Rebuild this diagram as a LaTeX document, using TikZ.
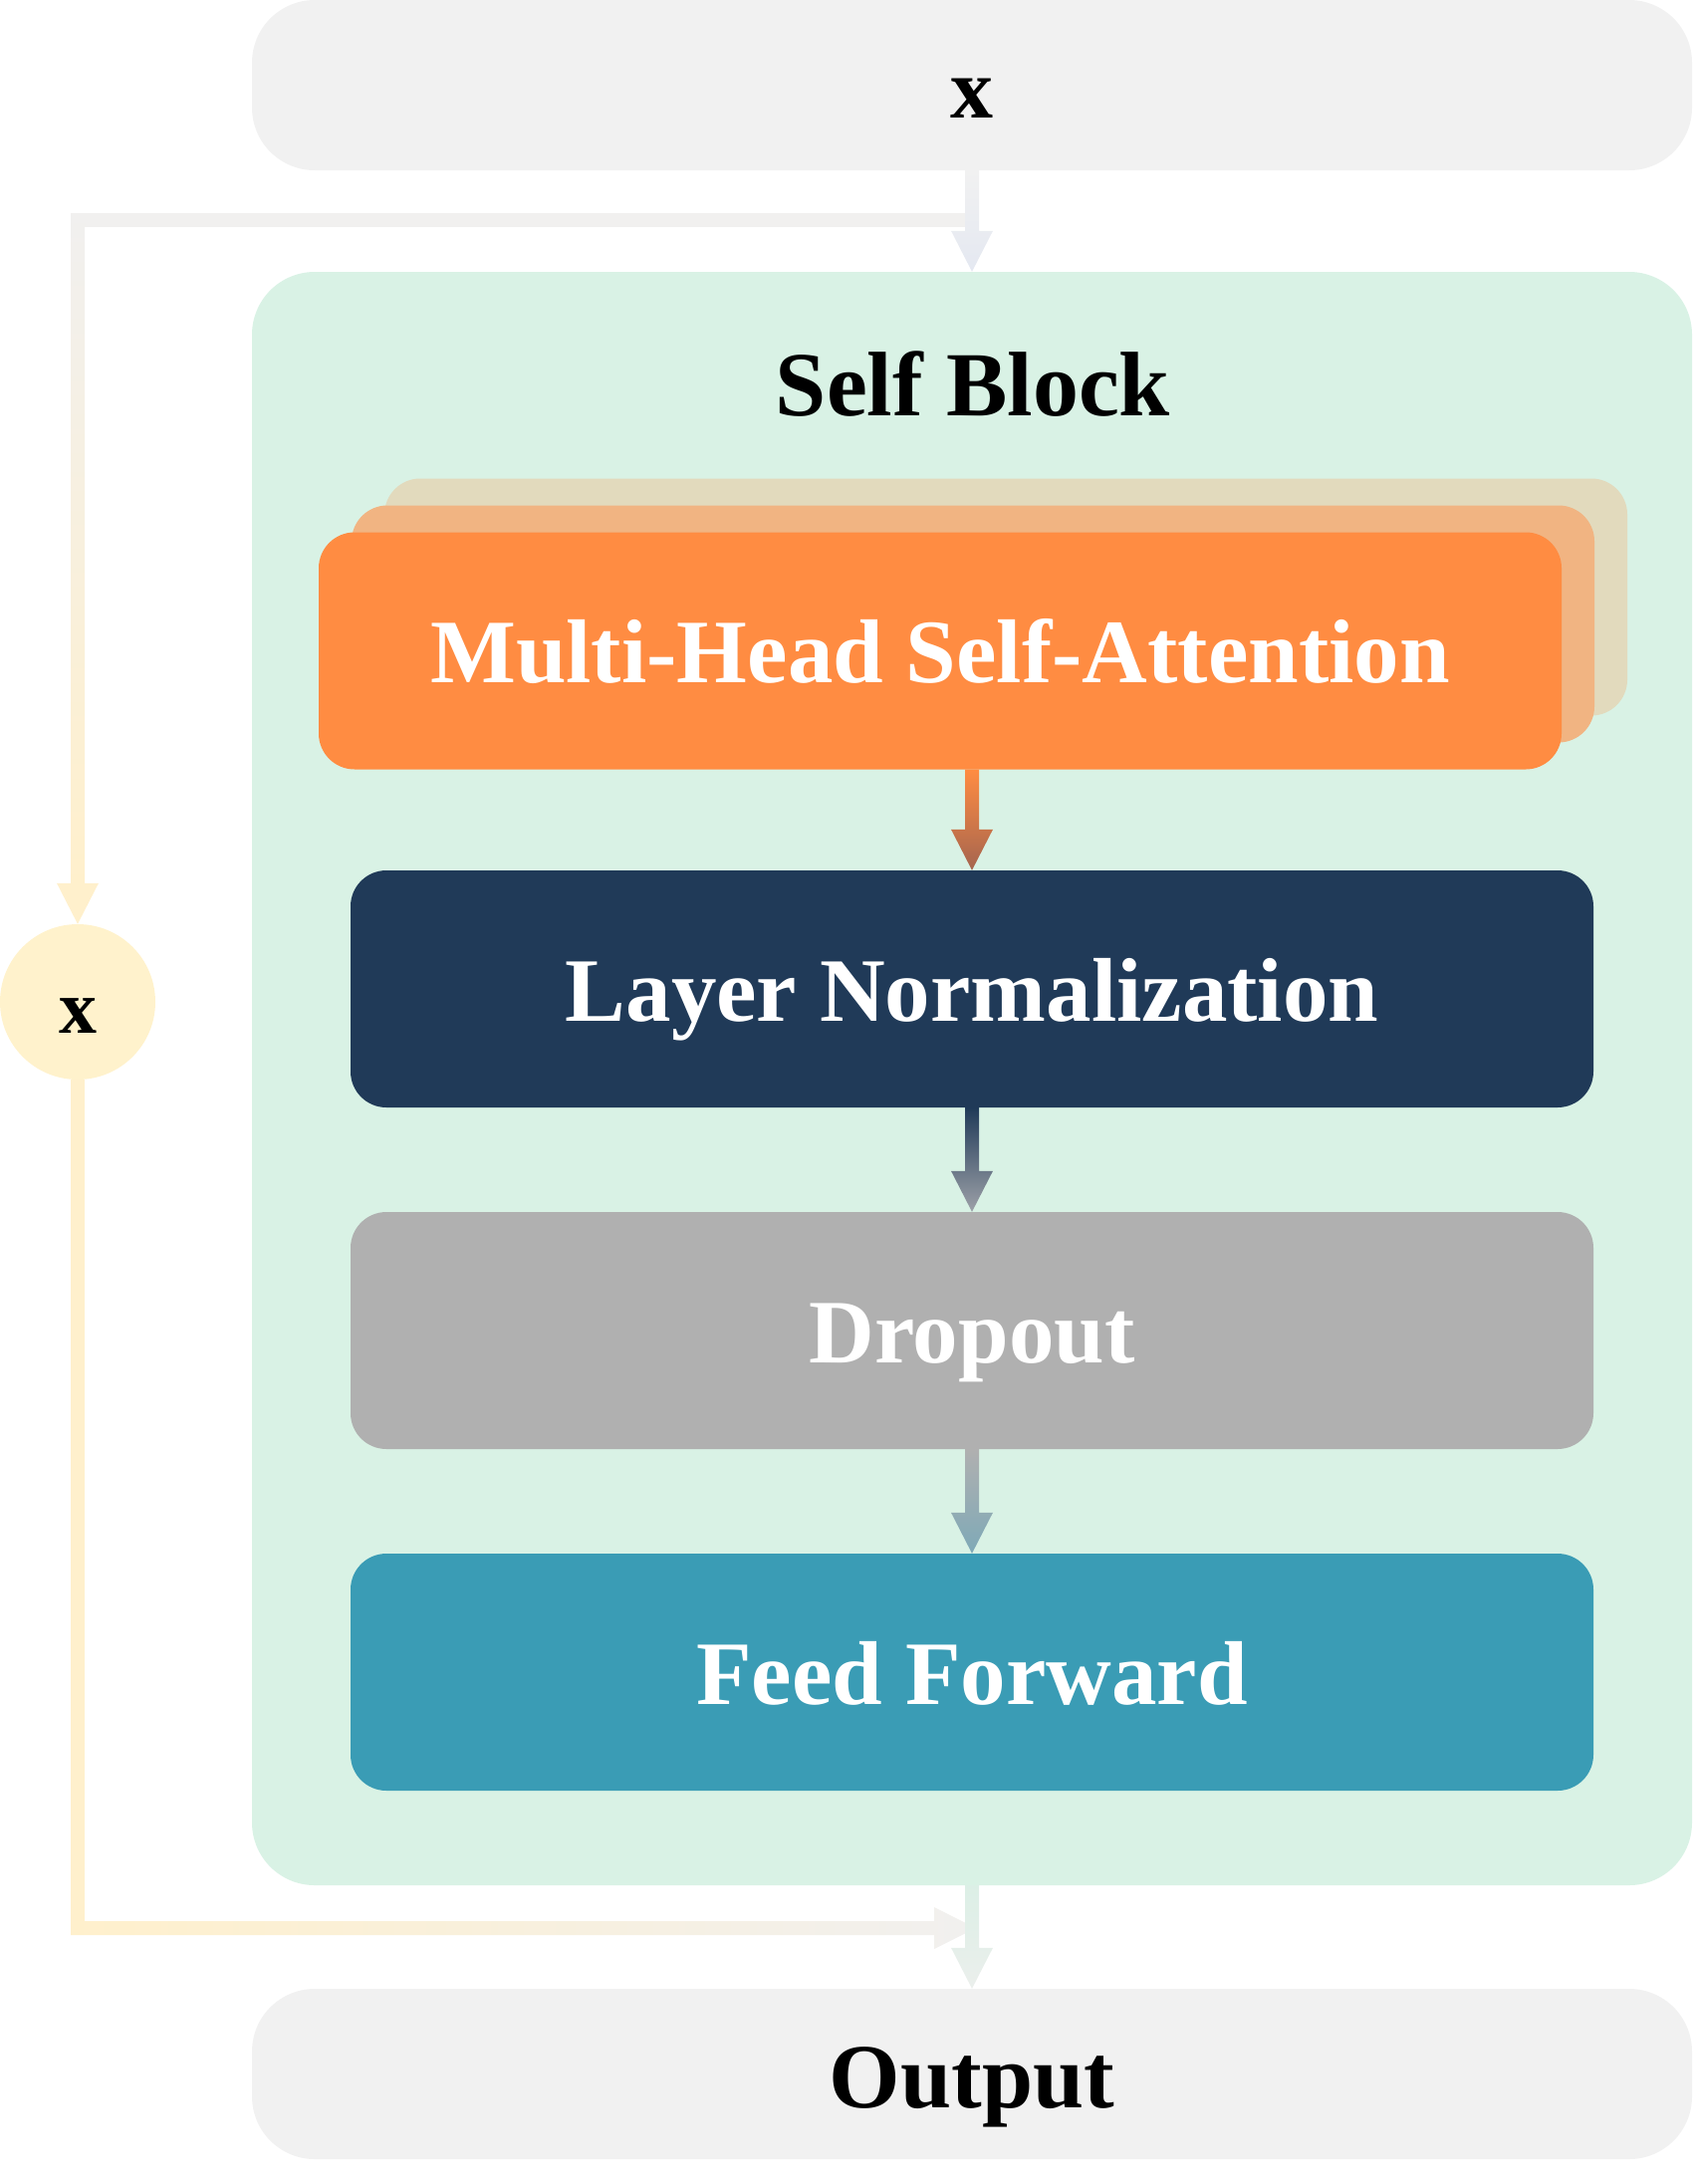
\documentclass[tikz,border=0pt]{standalone}
\usepackage{fontspec}
\setmainfont{Liberation Serif}
\usetikzlibrary{calc}

\definecolor{boxgray}{HTML}{F1F1F1}
\definecolor{blockgreen}{HTML}{D9F2E5}
\definecolor{attnorange}{HTML}{FF8C42}
\definecolor{attnmid}{HTML}{F1B482}
\definecolor{attnback}{HTML}{E2DABD}
\definecolor{lnnavy}{HTML}{203A58}
\definecolor{dropgray}{HTML}{B0B0B0}
\definecolor{ffteal}{HTML}{3A9CB5}
\definecolor{circyellow}{HTML}{FFF2CC}
\definecolor{skipyellow}{HTML}{FFF0CC}
\definecolor{skipgray}{HTML}{F1F0EF}
\definecolor{inbluegray}{HTML}{E4E8F1}
\definecolor{attnbrown}{HTML}{A5654F}
\definecolor{lngray}{HTML}{9DA1A8}
\definecolor{dropteal}{HTML}{7EA9B7}
\definecolor{outgreen}{HTML}{DCEFE6}
\definecolor{outgray}{HTML}{EBEFEC}

\newcommand{\gradarrow}[4]{%
\shade[top color=#3,bottom color=#4] ($(#1)+(-7,0)$) -- ($(#2)+(-7,-41)$) -- ($(#2)+(-21,-41)$) -- (#2) -- ($(#2)+(21,-41)$) -- ($(#2)+(7,-41)$) -- ($(#1)+(7,0)$) -- cycle;}

\begin{document}
\begin{tikzpicture}[x=1pt,y=-1pt]
\tikzstyle{bigbox}=[rectangle,rounded corners=63pt,minimum width=1446pt,inner sep=0pt]
\tikzstyle{layer}=[rectangle,rounded corners=36pt,minimum width=1248pt,minimum height=238pt,inner sep=0pt,text=white,font=\fontsize{91}{100}\selectfont\bfseries,text height=64pt,text depth=0pt]
\tikzstyle{title}=[font=\fontsize{92}{100}\selectfont\bfseries,text height=64pt,text depth=0pt]
\useasboundingbox (0,0) rectangle (1702,2193);
\node[bigbox,fill=boxgray,minimum height=171pt,title,text height=66pt,font=\fontsize{86}{100}\selectfont\bfseries] (top) at (976,85.5) {x};
\node[bigbox,fill=blockgreen,minimum height=1620pt] (block) at (976,1083) {};
\node[font=\fontsize{92}{100}\selectfont\bfseries,anchor=base] (blocktitle) at (977,417) {Self Block};
\node[layer,fill=attnback] (mhsatwo) at (1010,599.5) {};
\node[layer,fill=attnmid] (mhsaone) at (977,626.5) {};
\node[layer,fill=attnorange] (mhsa) at (944,653.5) {Multi-Head Self-Attention};
\node[layer,fill=lnnavy] (ln) at (976,993) {Layer Normalization};
\node[layer,fill=dropgray] (drop) at (976,1336) {Dropout};
\node[layer,fill=ffteal] (ff) at (976,1679) {Feed Forward};
\node[bigbox,fill=boxgray,minimum height=171pt,title,text height=68pt] (out) at (976,2082.5) {Output};
\node[circle,fill=circyellow,minimum size=156pt,inner sep=0pt,font=\fontsize{76}{90}\selectfont\bfseries,text height=62pt,text depth=0pt] (circ) at (78,1006) {x};
\coordinate (split) at ($(top.south)+(0,50)$);
\coordinate (tl) at (split -| circ.north);
\coordinate (bl) at (78,1936);
\coordinate (join) at (bl -| out.north);
\fill[skipgray] ($(split)+(0,-7)$) rectangle ($(tl)+(-7,7)$);
\shade[top color=skipgray,bottom color=skipyellow] ($(tl)+(-7,-7)$) rectangle ($(circ.north)+(7,-41)$);
\fill[skipyellow] ($(circ.north)+(-21,-41)$) -- (circ.north) -- ($(circ.north)+(21,-41)$) -- cycle;
\fill[skipyellow] ($(circ.south)+(-7,0)$) rectangle ($(bl)+(7,0)$);
\shade[left color=skipyellow,right color=skipgray] ($(bl)+(-7,7)$) -- ($(join)+(-38,7)$) -- ($(join)+(-38,21)$) -- ($(join)+(4,0)$) -- ($(join)+(-38,-21)$) -- ($(join)+(-38,-7)$) -- ($(bl)+(-7,-7)$) -- cycle;
\gradarrow{top.south}{block.north}{boxgray}{inbluegray}
\gradarrow{mhsa.south -| ln.north}{ln.north}{attnorange}{attnbrown}
\gradarrow{ln.south}{drop.north}{lnnavy}{lngray}
\gradarrow{drop.south}{ff.north}{dropgray}{dropteal}
\gradarrow{block.south}{out.north}{outgreen}{outgray}
\end{tikzpicture}
\end{document}
